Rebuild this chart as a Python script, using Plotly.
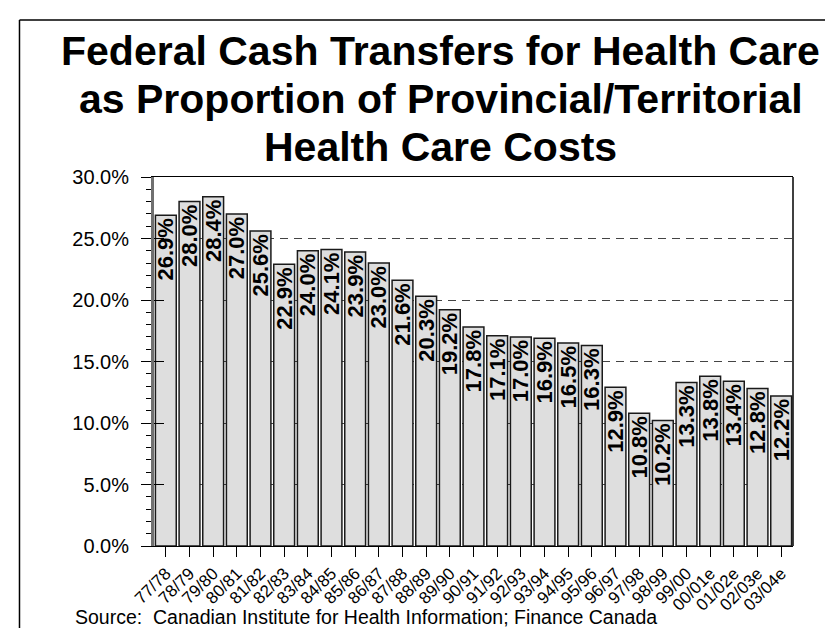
import plotly.graph_objects as go

categories = ["77/78", "78/79", "79/80", "80/81", "81/82", "82/83", "83/84", "84/85",
              "85/86", "86/87", "87/88", "88/89", "89/90", "90/91", "91/92", "92/93",
              "93/94", "94/95", "95/96", "96/97", "97/98", "98/99", "99/00", "00/01e",
              "01/02e", "02/03e", "03/04e"]
values = [26.9, 28.0, 28.4, 27.0, 25.6, 22.9, 24.0, 24.1, 23.9, 23.0, 21.6, 20.3, 19.2,
          17.8, 17.1, 17.0, 16.9, 16.5, 16.3, 12.9, 10.8, 10.2, 13.3, 13.8, 13.4, 12.8, 12.2]
title_lines = ["Federal Cash Transfers for Health Care",
               "as Proportion of Provincial/Territorial",
               "Health Care Costs"]
source_text = "Source:  Canadian Institute for Health Information; Finance Canada"

FONT = "Liberation Sans, Arial, Helvetica, sans-serif"

fig = go.Figure()
fig.add_trace(go.Bar(
    x=categories, y=values,
    marker=dict(color="#dedede", line=dict(color="#1a1a1a", width=1.5)),
    text=[f"{v:.1f}%" for v in values],
    textposition="inside", insidetextanchor="end", textangle=-90,
    constraintext="none", cliponaxis=False,
    textfont=dict(family=FONT, size=22, color="black", weight="bold"),
    hoverinfo="skip",
))

fig.update_layout(
    width=833, height=628,
    margin=dict(l=146, r=48, t=169, b=90),
    paper_bgcolor="white", plot_bgcolor="white",
    showlegend=False, bargap=0.12,
    font=dict(family=FONT, color="black"),
    xaxis=dict(
        type="category", range=[-0.5, len(categories) - 0.5],
        showline=True, linecolor="black", linewidth=1, mirror=True,
        ticks="outside", ticklen=10, tickcolor="black", tickwidth=1,
        tickangle=-45, tickfont=dict(size=17, color="black"), showgrid=False,
        zeroline=False,
    ),
    yaxis=dict(
        range=[0, 30], dtick=5, tick0=0, tickformat=".1f", ticksuffix="%",
        showline=True, linecolor="#707070", linewidth=3,
        ticks="outside", ticklen=10, tickcolor="black", tickwidth=1,
        ticklabelstandoff=8,
        tickfont=dict(size=20, color="black"),
        showgrid=True, gridcolor="#444444", griddash="8px,6px", gridwidth=1,
        zeroline=False,
        minor=dict(dtick=1, ticks="outside", ticklen=5, tickcolor="black", showgrid=False),
    ),
    yaxis2=dict(
        overlaying="y", matches="y", side="left", range=[0, 30], dtick=5,
        ticks="inside", ticklen=10, tickcolor="black", tickwidth=1,
        showticklabels=False, showgrid=False, zeroline=False, showline=False,
    ),
)

# invisible trace to activate the overlay axis for inside tick marks
fig.add_trace(go.Scatter(x=[categories[0]], y=[values[0]], yaxis="y2", mode="markers",
                         marker=dict(opacity=0), hoverinfo="skip", showlegend=False))

# right plot border
fig.add_shape(type="line", xref="paper", yref="paper", x0=1, x1=1, y0=0, y1=1,
              line=dict(color="black", width=1.5))
# outer frame (left and top edges visible)
fig.add_shape(type="line", xref="paper", yref="paper", x0=-0.2105, x1=-0.2105,
              y0=-0.35, y1=1.4255, line=dict(color="black", width=1.5))
fig.add_shape(type="line", xref="paper", yref="paper", x0=-0.2105, x1=1.2,
              y0=1.4255, y1=1.4255, line=dict(color="black", width=1.5))

title_y = [1.3423, 1.2123, 1.0823]
for line, yy in zip(title_lines, title_y):
    fig.add_annotation(text=f"<b>{line}</b>", xref="paper", yref="paper",
                       x=0.4484, y=yy, xanchor="center", yanchor="middle",
                       showarrow=False, font=dict(family=FONT, size=41, color="black"))

fig.add_annotation(text=source_text, xref="paper", yref="paper", x=-0.1268, y=-0.192,
                   xanchor="left", yanchor="middle", showarrow=False,
                   font=dict(family=FONT, size=19.5, color="black"))

fig.write_html("out.html")
